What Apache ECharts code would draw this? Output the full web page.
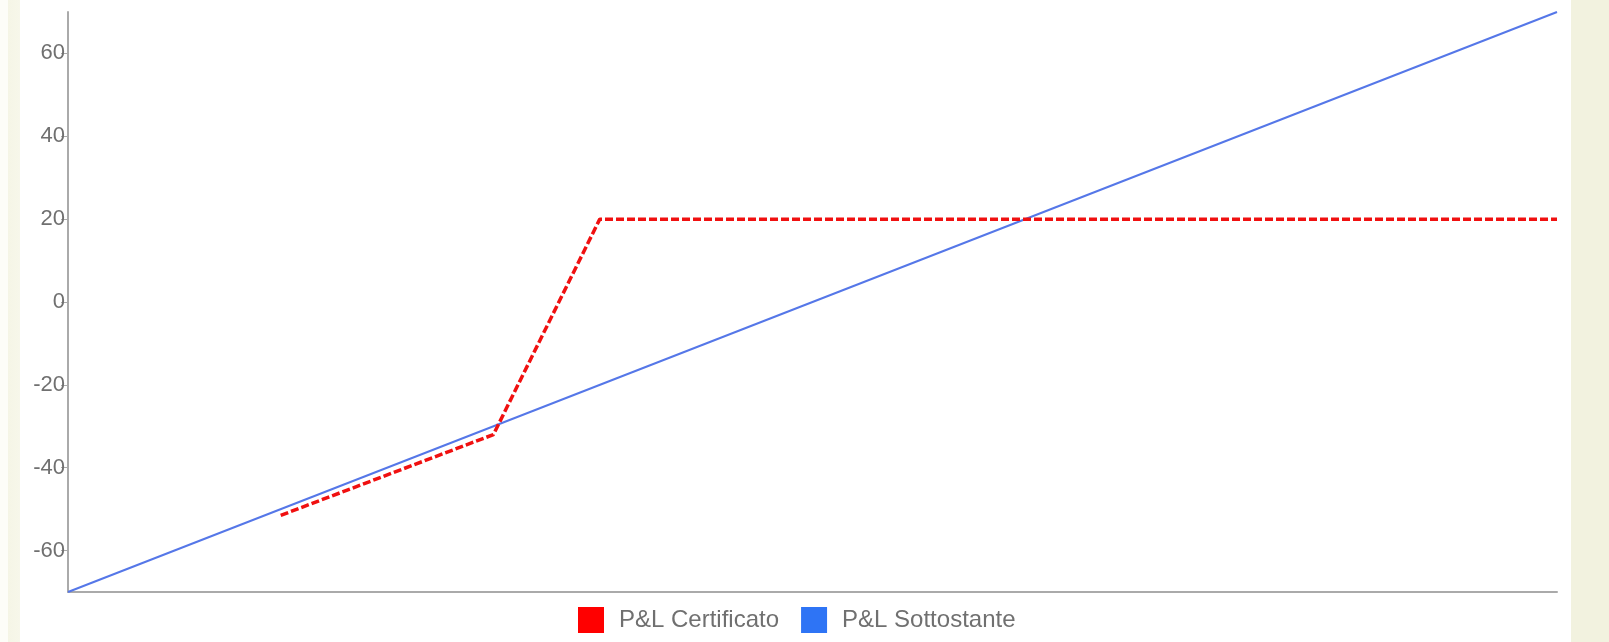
<!DOCTYPE html>
<html>
<head>
<meta charset="utf-8">
<script src="https://cdn.jsdelivr.net/npm/echarts@6/dist/echarts.min.js"></script>
<style>
html,body{margin:0;padding:0;}
body{width:1609px;height:642px;overflow:hidden;
background:linear-gradient(to right,#fdfdf8 0px,#fdfdf8 8px,#f5f5e6 8px,#f7f7ea 20px,#ffffff 20px,#ffffff 1571px,#f2f2df 1571px,#f2f2df 1609px);}
#chart{width:1609px;height:642px;}
</style>
</head>
<body>
<div id="chart"></div>
<script>
// Data (x = underlying performance %, y = P&L %)
const seriesNames = ['P&L Certificato', 'P&L Sottostante'];
const certificatoData = [[-50, -51.5], [-30, -32], [-20, 20], [70, 20]];
const sottostanteData = [[-70, -70], [70, 70]];
const yTickLabels = [-60, -40, -20, 0, 20, 40, 60];

const chart = echarts.init(document.getElementById('chart'), null, {renderer: 'canvas'});
chart.setOption({
  backgroundColor: 'transparent',
  animation: false,
  grid: {left: 68, right: 52, top: 12, bottom: 50, containLabel: false},
  legend: {
    left: 573, top: 602,
    itemWidth: 26, itemHeight: 26, itemGap: 22,
    icon: 'rect',
    textStyle: {fontFamily: 'Liberation Sans', fontSize: 24, color: '#707070', padding: [0, 0, 0, 10]},
    data: [
      {name: seriesNames[0], itemStyle: {color: '#ff0000'}},
      {name: seriesNames[1], itemStyle: {color: '#2e74f5'}}
    ]
  },
  xAxis: {
    type: 'value', min: -70, max: 70,
    axisLine: {show: true, onZero: false, lineStyle: {color: '#aaaaaa', width: 2}},
    axisTick: {show: false}, axisLabel: {show: false}, splitLine: {show: false}
  },
  yAxis: {
    type: 'value', min: -70, max: 70,
    axisLine: {show: true, onZero: false, lineStyle: {color: '#aaaaaa', width: 2}},
    axisTick: {show: true, length: 7, customValues: yTickLabels, lineStyle: {color: '#aaaaaa', width: 1}},
    axisLabel: {customValues: yTickLabels, margin: 3, fontFamily: 'Liberation Sans', fontSize: 22, color: '#707070'},
    splitLine: {show: false}
  },
  series: [
    {
      name: seriesNames[1], type: 'line', data: sottostanteData, symbol: 'none', z: 2,
      lineStyle: {color: '#5577e8', width: 2}, itemStyle: {color: '#2e74f5'}
    },
    {
      name: seriesNames[0], type: 'line', data: certificatoData, symbol: 'none', z: 3,
      lineStyle: {color: '#f01010', width: 3.5, type: [8, 3]}, itemStyle: {color: '#ff0000'}
    }
  ]
});
</script>
</body>
</html>
